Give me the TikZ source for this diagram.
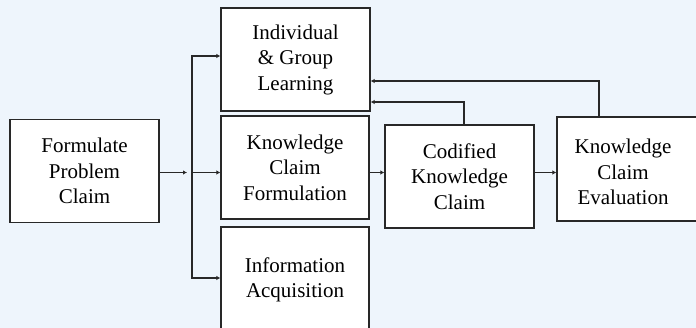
\documentclass[tikz,border=0pt]{standalone}
\usepackage{fontspec}
\setmainfont{Liberation Serif}
\newfontfamily\boxfont{Liberation Serif}
\usetikzlibrary{arrows.meta}
\definecolor{bgblue}{RGB}{238,245,252}
\definecolor{linegray}{RGB}{40,40,40}
\tikzset{
  box/.style={draw=linegray, line width=1.2pt, fill=white, align=center,
    minimum width=149, minimum height=103, inner sep=0pt,
    font=\boxfont\fontsize{21}{25.5}\selectfont},
  boxtext/.style={align=center, inner sep=0pt, font=\boxfont\fontsize{21}{25.5}\selectfont},
  arr/.style={draw=linegray, line width=1.1pt, -{Latex[length=4pt,width=4.5pt]}}
}
\begin{document}
\begin{tikzpicture}[x=1pt,y=1pt,yscale=-1]
\useasboundingbox (0,0) rectangle (696,328);
\fill[bgblue] (0,0) rectangle (696,328);
\clip (0,0) rectangle (696,328);

%Shape: Boxes
\node[box] (fpc) at (84.5,171) {Formulate\\Problem\\Claim};
\node[box] (igl) at (295.5,59.5) {Individual\\\& Group\\Learning};
\node[box, minimum width=148] (kcf) at (295,167.5) {Knowledge\\Claim\\Formulation};
\node[box, minimum width=148, minimum height=106] (ia) at (295,280) {Information\\Acquisition};
\node[box] (ckc) at (459.5,176.5) {Codified\\Knowledge\\Claim};
\node[box, minimum width=155, minimum height=104] (kce) at (634.5,169) {};
% Text Node
\node[boxtext] (kcetxt) at (623,172) {Knowledge\\Claim\\Evaluation};

%Helper points
\coordinate (row) at (0,172.5);
\coordinate (split) at (192,172.5);
\coordinate (fbA) at (464,102);
\coordinate (fbB) at (599,81);

%Straight Lines
\draw[arr, shorten >=5pt] (fpc.east |- row) -- (split);
\draw[arr] (split) |- ([yshift=-3.5pt]igl.west);
\draw[arr] (split) -- (kcf.west |- row);
\draw[arr] (split) |- ([yshift=-2pt]ia.west);
\draw[arr] (kcf.east |- row) -- (ckc.west |- row);
\draw[arr] (ckc.east |- row) -- (kce.west |- row);

%Feedback lines
\draw[arr] (ckc.north -| fbA) |- (igl.east |- fbA);
\draw[arr] (kce.north -| fbB) |- (igl.east |- fbB);

\end{tikzpicture}
\end{document}
